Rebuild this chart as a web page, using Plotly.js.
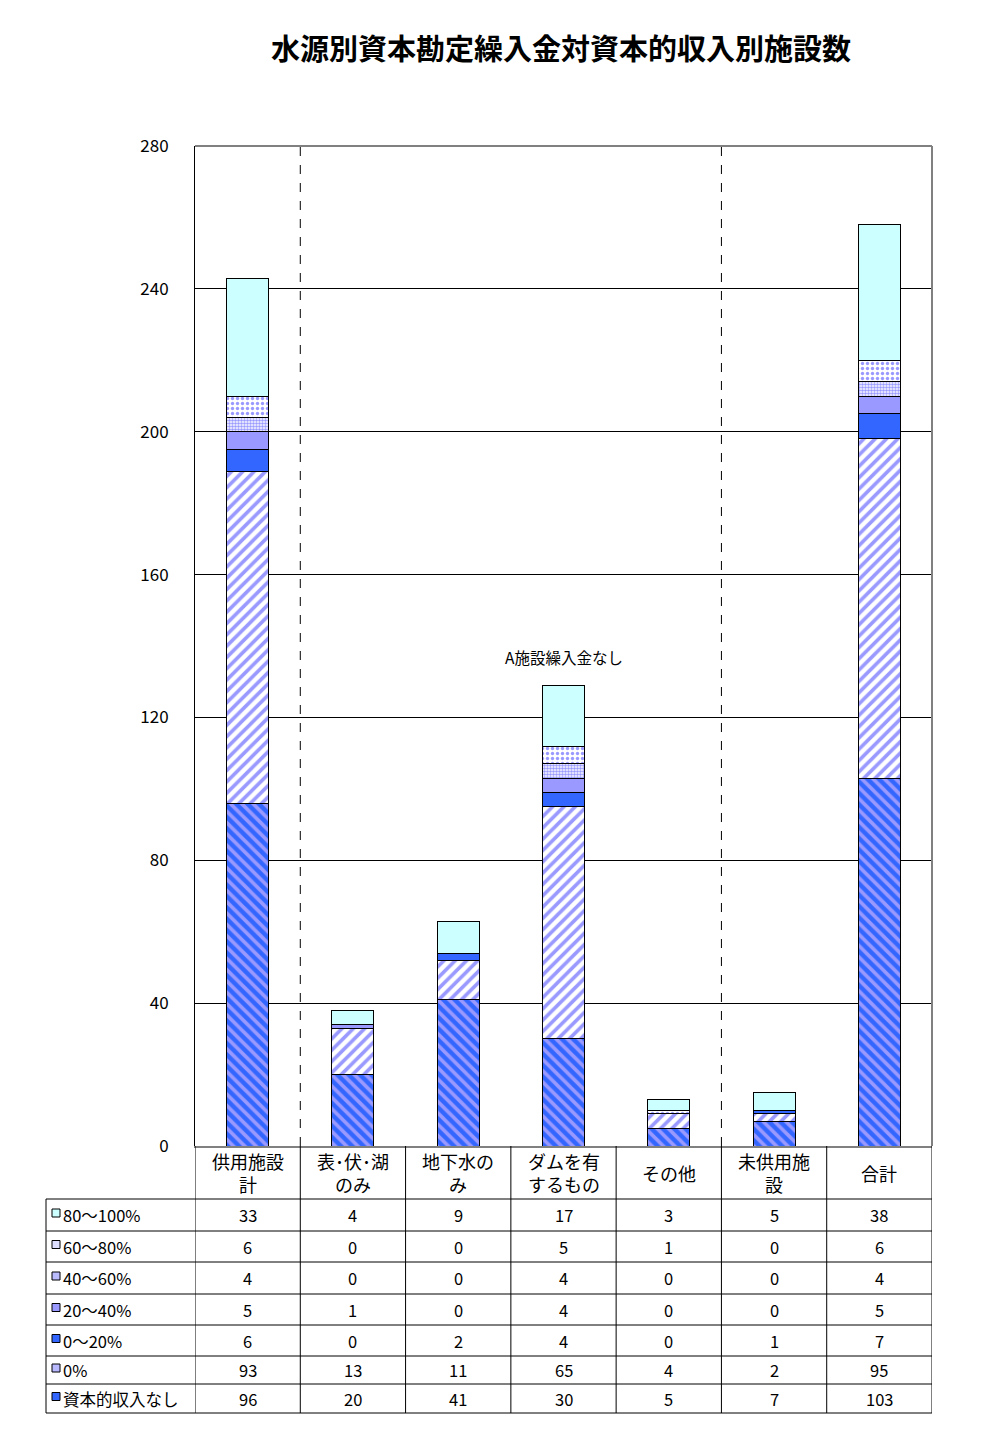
<!DOCTYPE html>
<html>
<head>
<meta charset="utf-8">
<script src="https://cdn.plot.ly/plotly-3.0.1.min.js"></script>
<style>body{margin:0;background:#fff}#chart{width:984px;height:1440px}</style>
</head>
<body>
<div id="chart"></div>
<script>
// ---- data ----
const categories = ['供用施設計', '表･伏･湖のみ', '地下水のみ', 'ダムを有するもの', 'その他', '未供用施設', '合計'];
const categoryLabels = ['供用施設<br>計', '表･伏･湖<br>のみ', '地下水の<br>み', 'ダムを有<br>するもの', 'その他', '未供用施<br>設', '合計'];
// stacking order: bottom -> top
const seriesNames = ['資本的収入なし', '0%', '0～20%', '20～40%', '40～60%', '60～80%', '80～100%'];
const noIncome = [96, 20, 41, 30, 5, 7, 103];
const pct0 = [93, 13, 11, 65, 4, 2, 95];
const pct0to20 = [6, 0, 2, 4, 0, 1, 7];
const pct20to40 = [5, 1, 0, 4, 0, 0, 5];
const pct40to60 = [4, 0, 0, 4, 0, 0, 4];
const pct60to80 = [6, 0, 0, 5, 1, 0, 6];
const pct80to100 = [33, 4, 9, 17, 3, 5, 38];
const seriesValues = [noIncome, pct0, pct0to20, pct20to40, pct40to60, pct60to80, pct80to100];
const chartTitle = '水源別資本勘定繰入金対資本的収入別施設数';
const noteText = 'A施設繰入金なし';
const noteCategory = 'ダムを有するもの';
const yTicks = [0, 40, 80, 120, 160, 200, 240, 280];
const groupSeparators = [0.5, 4.5]; // dashed lines between category groups

// ---- styles ----
const styles = [
  {bg: '#3366FF', fg: '#9999FF', shape: '\\', size: 8, solidity: 0.45, swatch: '#3366FF'},
  {bg: '#FFFFFF', fg: '#9999FF', shape: '/', size: 8, solidity: 0.45, swatch: '#B8B8FF'},
  {bg: '#3366FF', fg: '#3366FF', shape: '', size: 8, solidity: 0.3, swatch: '#3366FF'},
  {bg: '#9999FF', fg: '#9999FF', shape: '', size: 8, solidity: 0.3, swatch: '#9999FF'},
  {bg: '#FFFFFF', fg: '#9999FF', shape: '.', size: 3, solidity: 0.55, swatch: '#BBBBFF'},
  {bg: '#FFFFFF', fg: '#9999FF', shape: '.', size: 5, solidity: 0.35, swatch: '#DDDDFF'},
  {bg: '#CCFFFF', fg: '#CCFFFF', shape: '', size: 8, solidity: 0.3, swatch: '#CCFFFF'}
];

const FONT = '"Noto Sans CJK JP", "Noto Sans", sans-serif';
const W = 984, H = 1440;
const L = 195, R = 932, T = 146, B = 1146;
const px2x = p => (p - L) / (R - L);
const py2y = p => (B - p) / (B - T);

const traces = seriesNames.map((name, i) => ({
  type: 'bar',
  name: name,
  x: categories,
  y: seriesValues[i],
  marker: {
    color: styles[i].bg,
    line: {color: '#000000', width: 1},
    pattern: styles[i].shape ? {
      shape: styles[i].shape, fillmode: 'replace',
      bgcolor: styles[i].bg, fgcolor: styles[i].fg,
      size: styles[i].size, solidity: styles[i].solidity
    } : undefined
  },
  hoverinfo: 'skip'
}));

// ---- table geometry (pixels) ----
const headerTop = 1146, headerBottom = 1199;
const rowLines = [1199, 1231, 1262, 1294, 1325, 1356, 1384, 1413];
const tableLeft = 46;

const shapes = [];
const annotations = [];

// plot border (top/right grey)
shapes.push({type: 'line', xref: 'paper', yref: 'paper', x0: 0, x1: 1, y0: 1, y1: 1, line: {color: '#808080', width: 2}});
shapes.push({type: 'line', xref: 'paper', yref: 'paper', x0: 1, x1: 1, y0: 0, y1: 1, line: {color: '#808080', width: 2}});
// dashed group separators
groupSeparators.forEach(v => shapes.push({type: 'line', xref: 'x', yref: 'paper', x0: v, x1: v, y0: 0, y1: 1, line: {color: '#000000', width: 1, dash: 'dash'}, layer: 'above'}));

// table horizontal lines
rowLines.forEach(p => shapes.push({type: 'line', xref: 'paper', yref: 'paper', x0: px2x(tableLeft), x1: 1, y0: py2y(p), y1: py2y(p), line: {color: '#000000', width: 1}}));
// vertical lines
shapes.push({type: 'line', xref: 'paper', yref: 'paper', x0: px2x(tableLeft), x1: px2x(tableLeft), y0: py2y(headerBottom), y1: py2y(rowLines[rowLines.length - 1]), line: {color: '#000000', width: 1}});
for (let i = 0; i <= categories.length; i++) {
  shapes.push({type: 'line', xref: 'x', yref: 'paper', x0: i - 0.5, x1: i - 0.5, y0: py2y(headerTop), y1: py2y(rowLines[rowLines.length - 1]), line: {color: '#000000', width: 1}});
}

// header labels
categoryLabels.forEach((lab, i) => annotations.push({
  xref: 'x', yref: 'paper', x: categories[i], y: py2y((headerTop + headerBottom) / 2),
  text: lab, showarrow: false, xanchor: 'center', yanchor: 'middle',
  font: {family: FONT, size: 18, color: '#000'}
}));

// rows: top -> bottom = reverse of stacking
for (let r = 0; r < seriesNames.length; r++) {
  const si = seriesNames.length - 1 - r;
  const yc = (rowLines[r] + rowLines[r + 1]) / 2;
  shapes.push({type: 'rect', xref: 'paper', yref: 'paper',
    x0: px2x(52), x1: px2x(60), y0: py2y(yc - 6), y1: py2y(yc + 2),
    fillcolor: styles[si].swatch, line: {color: '#000000', width: 1}});
  annotations.push({xref: 'paper', yref: 'paper', x: px2x(61), y: py2y(yc), text: seriesNames[si],
    showarrow: false, xanchor: 'left', yanchor: 'middle', font: {family: FONT, size: 16.5, color: '#000'}});
  seriesValues[si].forEach((v, c) => annotations.push({
    xref: 'x', yref: 'paper', x: categories[c], y: py2y(yc), text: String(v),
    showarrow: false, xanchor: 'center', yanchor: 'middle', font: {family: FONT, size: 16.5, color: '#000'}
  }));
}

// note above dam bar
annotations.push({xref: 'x', yref: 'paper', x: noteCategory, y: py2y(657), text: noteText,
  showarrow: false, xanchor: 'center', yanchor: 'middle', font: {family: FONT, size: 15.5, color: '#000'}});

const layout = {
  width: W, height: H,
  margin: {l: L, r: W - R, t: T, b: H - B, pad: 0},
  paper_bgcolor: '#ffffff', plot_bgcolor: '#ffffff',
  showlegend: false,
  barmode: 'stack', bargap: 0.6,
  title: {text: '<b>' + chartTitle + '</b>', xref: 'paper', x: px2x(561), xanchor: 'center',
    yref: 'container', y: 1 - 50 / H, yanchor: 'middle',
    font: {family: FONT, size: 29, color: '#000'}},
  xaxis: {type: 'category', categoryarray: categories, range: [-0.5, categories.length - 0.5],
    showticklabels: false, ticks: '', showgrid: false, zeroline: false,
    showline: true, linecolor: '#808080', linewidth: 2, fixedrange: true},
  yaxis: {range: [0, 280], tickvals: yTicks, ticktext: yTicks.map(String), ticks: '',
    showgrid: true, gridcolor: '#000000', gridwidth: 1, zeroline: false,
    showline: true, linecolor: '#000000', linewidth: 1,
    ticklabelstandoff: 22, tickfont: {family: FONT, size: 17, color: '#000'}, fixedrange: true},
  shapes: shapes,
  annotations: annotations
};

Plotly.newPlot('chart', traces, layout, {staticPlot: true, displayModeBar: false});
</script>
</body>
</html>
